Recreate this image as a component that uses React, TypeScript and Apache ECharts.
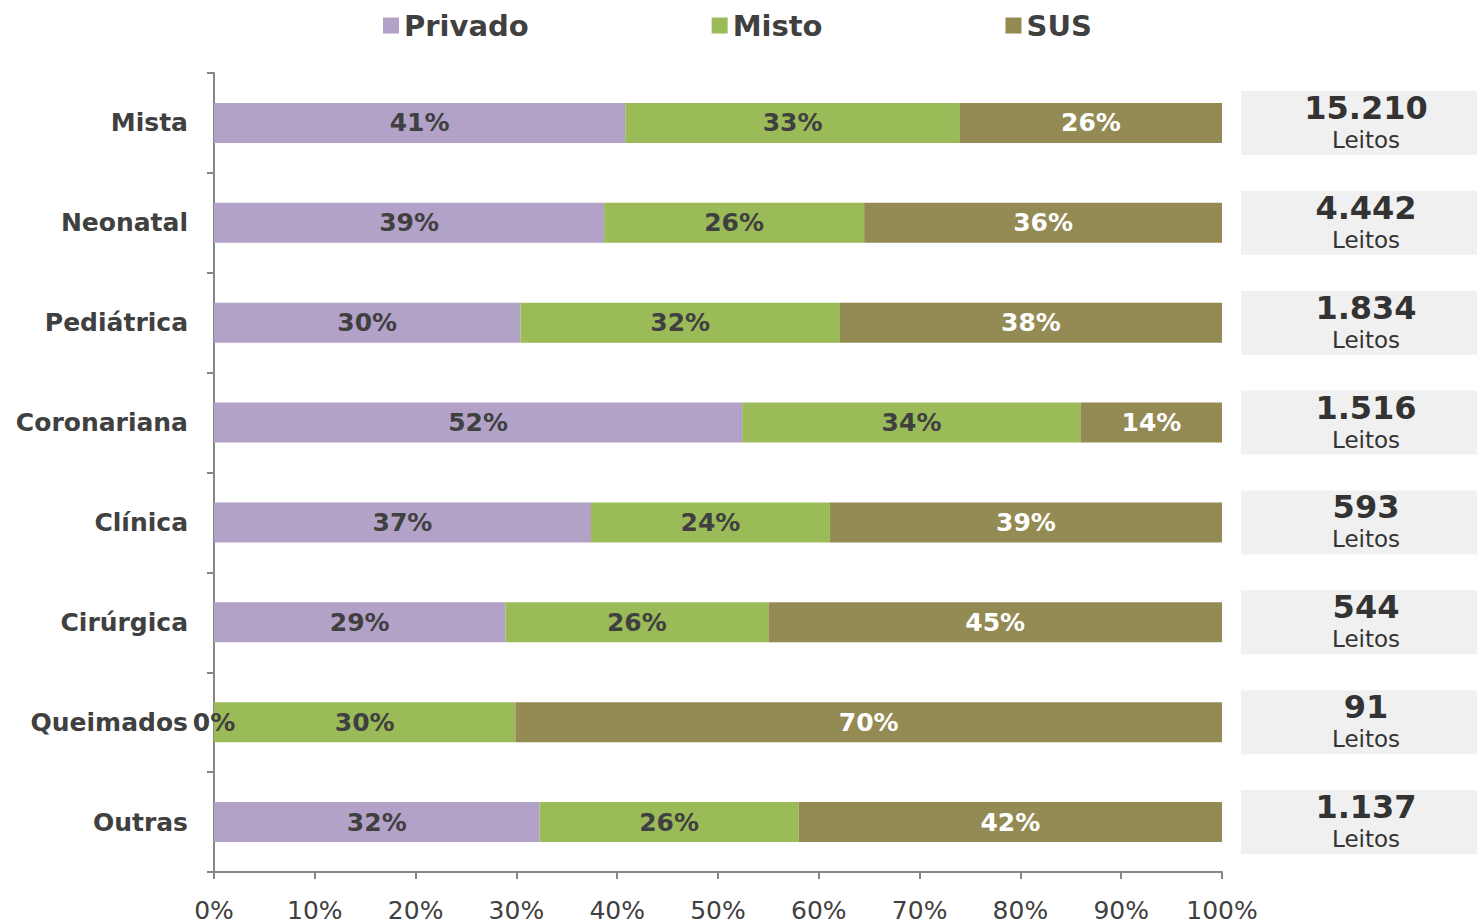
import React, { useEffect, useRef } from "react";
import * as echarts from "echarts";

const categories = ["Mista", "Neonatal", "Pediátrica", "Coronariana", "Clínica", "Cirúrgica", "Queimados", "Outras"];
const privado = [40.8, 38.7, 30.4, 52.4, 37.4, 28.9, 0, 32.3];
const misto = [33.2, 25.8, 31.7, 33.6, 23.7, 26.1, 29.9, 25.7];
const sus = [26.0, 35.5, 37.9, 14.0, 38.9, 45.0, 70.1, 42.0];
const leitos = [15210, 4442, 1834, 1516, 593, 544, 91, 1137];
const xTicks = [0, 10, 20, 30, 40, 50, 60, 70, 80, 90, 100];

const FONT = "DejaVu Sans";
const fmtThousands = (n: number) => String(n).replace(/\B(?=(\d{3})+(?!\d))/g, ".");

export default function App() {
  const ref = useRef<HTMLDivElement>(null);
  useEffect(() => {
    const chart = echarts.init(ref.current!, null, { renderer: "svg" });
    const labelDark = {
      show: true,
      position: "inside",
      fontFamily: FONT,
      fontWeight: "bold",
      fontSize: 25,
      color: "#404040",
      formatter: (p: any) => `${Math.round(p.value)}%`,
    };
    chart.setOption({
      animation: false,
      textStyle: { fontFamily: FONT },
      legend: {
        top: 6,
        left: 378,
        itemWidth: 16,
        itemHeight: 16,
        itemGap: 183,
        icon: "rect",
        textStyle: { fontFamily: FONT, fontWeight: "bold", fontSize: 29, color: "#404040" },
        data: ["Privado", "Misto", "SUS"],
      },
      grid: { left: 214, right: 255, top: 73, bottom: 52, outerBoundsMode: "none", containLabel: false },
      xAxis: {
        type: "value",
        min: xTicks[0],
        max: xTicks[xTicks.length - 1],
        interval: 10,
        splitLine: { show: false },
        axisLine: { show: true, lineStyle: { color: "#868686", width: 2 } },
        axisTick: { show: true, length: 7, lineStyle: { color: "#868686", width: 2 } },
        axisLabel: {
          margin: 26,
          fontFamily: FONT,
          fontSize: 25,
          color: "#404040",
          formatter: (v: number) => `${v}%`,
        },
      },
      yAxis: [
        {
          type: "category",
          data: categories,
          inverse: true,
          axisLine: { show: true, lineStyle: { color: "#868686", width: 2 } },
          axisTick: { show: true, length: 7, lineStyle: { color: "#868686", width: 2 } },
          axisLabel: {
            interval: 0,
            margin: 26,
            fontFamily: FONT,
            fontWeight: "bold",
            fontSize: 25,
            color: "#404040",
          },
        },
        {
          type: "category",
          data: leitos.map(fmtThousands),
          inverse: true,
          position: "right",
          axisLine: { show: false },
          axisTick: { show: false },
          axisLabel: {
            interval: 0,
            margin: 144,
            align: "center",
            backgroundColor: "#f0f0f0",
            width: 250,
            padding: [0, 0],
            formatter: (v: string) => `{n|${v}}\n{l|Leitos}`,
            rich: {
              n: { fontFamily: FONT, fontWeight: "bold", fontSize: 32, color: "#333333", lineHeight: 34, align: "center", width: 250 },
              l: { fontFamily: FONT, fontSize: 23, color: "#333333", lineHeight: 30, align: "center", width: 250 },
            },
          },
        },
      ],
      series: [
        {
          name: "Privado",
          type: "bar",
          stack: "total",
          barWidth: 40,
          data: privado,
          itemStyle: { color: "#b3a2c7" },
          label: labelDark,
        },
        {
          name: "Misto",
          type: "bar",
          stack: "total",
          barWidth: 40,
          data: misto,
          itemStyle: { color: "#9bbb59" },
          label: labelDark,
        },
        {
          name: "SUS",
          type: "bar",
          stack: "total",
          barWidth: 40,
          data: sus,
          itemStyle: { color: "#948a54" },
          label: { ...labelDark, color: "#ffffff" },
        },
      ],
    });
    return () => chart.dispose();
  }, []);
  return (
    <div
      ref={ref}
      style={{ position: "fixed", left: 0, top: 0, width: 1477, height: 924, background: "#ffffff" }}
    />
  );
}
